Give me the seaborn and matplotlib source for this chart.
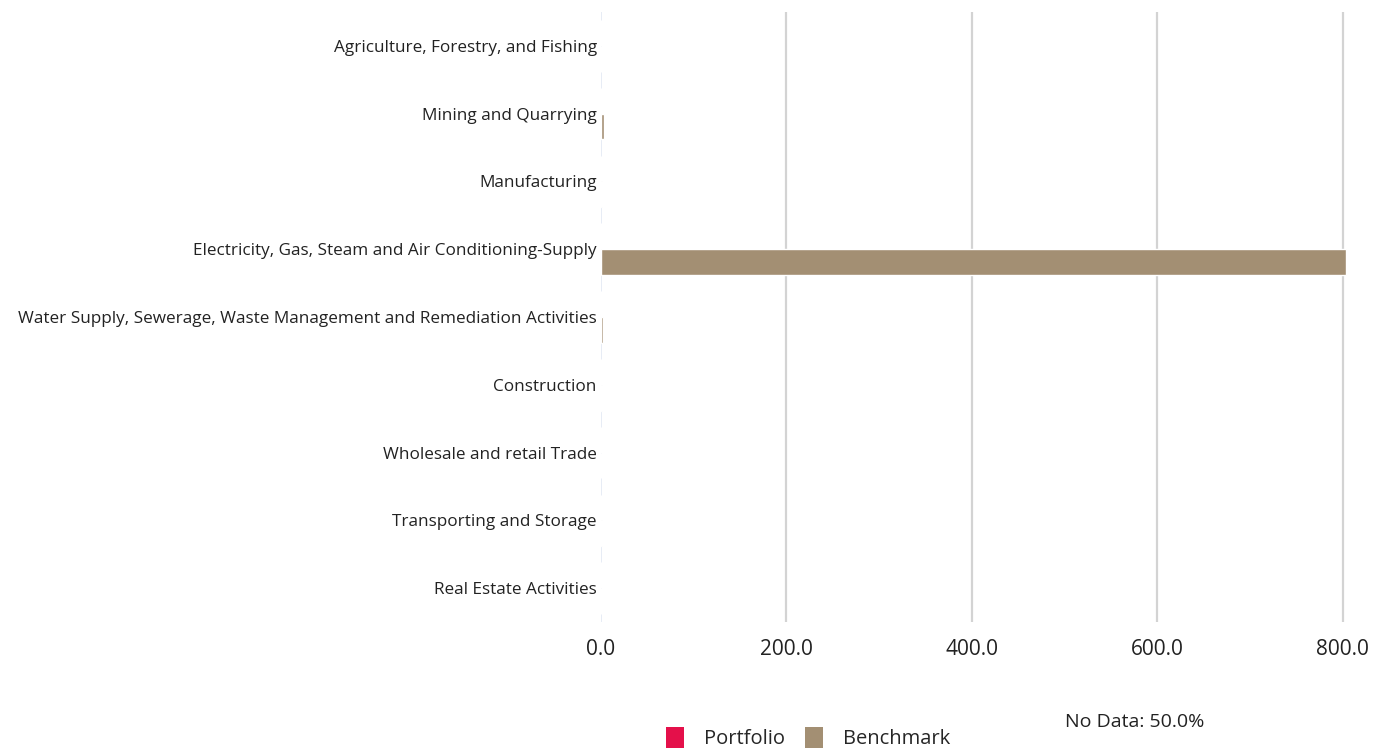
import matplotlib
matplotlib.use("Agg")
import matplotlib.pyplot as plt
import seaborn as sns
import pandas as pd
from matplotlib.patches import Patch

categories = [
    "Agriculture, Forestry, and Fishing",
    "Mining and Quarrying",
    "Manufacturing",
    "Electricity, Gas, Steam and Air Conditioning-Supply",
    "Water Supply, Sewerage, Waste Management and Remediation Activities",
    "Construction",
    "Wholesale and retail Trade",
    "Transporting and Storage",
    "Real Estate Activities",
]
portfolio = [0.0, 0.0, 0.0, 0.0, 0.0, 0.0, 0.0, 0.0, 0.0]
benchmark = [0.3, 3.2, 0.6, 803.0, 2.2, 1.2, 0.4, 1.0, 0.3]
series_names = ["Portfolio", "Benchmark"]
xticks = [0, 200, 400, 600, 800]
no_data_text = "No Data: 50.0%"

colors = {"Portfolio": "#E4104A", "Benchmark": "#A38F73"}

df = pd.DataFrame({
    "Sector": categories * 2,
    "Value": portfolio + benchmark,
    "Series": [series_names[0]] * len(categories) + [series_names[1]] * len(categories),
})

sns.set_theme(style="white")
plt.rcParams["font.family"] = ["Open Sans", "DejaVu Sans"]

fig = plt.figure(figsize=(13.76, 7.52), dpi=100)
ax = fig.add_axes([601 / 1376, 1 - 622 / 752, (1347.5 - 601) / 1376, (622 - 12) / 752])

sns.barplot(data=df, y="Sector", x="Value", hue="Series", order=categories,
            hue_order=series_names, palette=colors, orient="h", width=0.76,
            saturation=1, ax=ax, legend=False)

ax.set_xlim(0, 805)
ax.set_xticks(xticks)
ax.set_xticklabels([f"{v:.1f}" for v in xticks], fontsize=15, color="#222222")
ax.tick_params(axis="x", length=0, pad=12)
ax.tick_params(axis="y", length=0, pad=3, labelsize=12.3, labelcolor="#222222")
ax.set_xlabel("")
ax.set_ylabel("")
ax.grid(axis="x", color="#D3D3D3", linewidth=1.6)
ax.set_axisbelow(True)
for s in ax.spines.values():
    s.set_visible(False)
ax.axvline(0, color="#E3E9F3", linewidth=1.2, zorder=0)
ax.xaxis.get_gridlines()[0].set_visible(False)

handles = [Patch(facecolor=colors[n], edgecolor="none") for n in series_names]
fig.legend(handles, series_names, loc="center", bbox_to_anchor=(808 / 1376, 1 - 738 / 752),
           ncol=2, frameon=False, fontsize=14.5, handlelength=0.9, handleheight=1.2,
           handletextpad=1.0, columnspacing=1.0)
fig.text(1135 / 1376, 1 - 722 / 752, no_data_text, ha="center", va="center",
         fontsize=14, color="#222222")

fig.savefig("out.png", dpi=100)
